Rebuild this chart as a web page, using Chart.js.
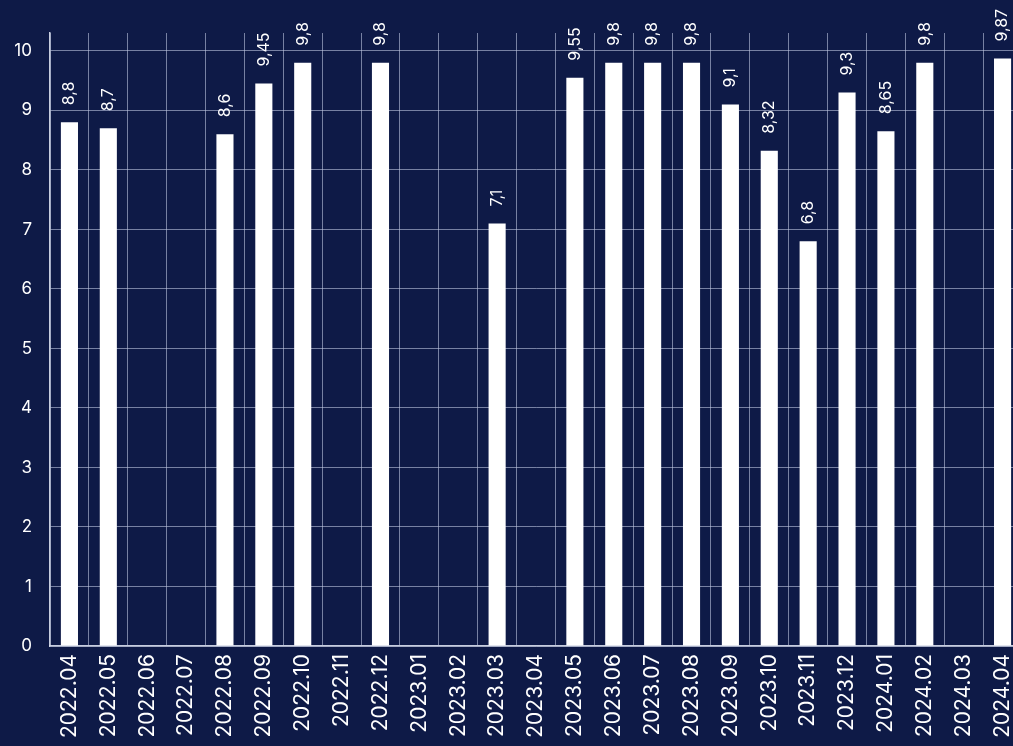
<!DOCTYPE html>
<html>
<head>
<meta charset="utf-8">
<script src="https://cdn.jsdelivr.net/npm/chart.js@4/dist/chart.umd.min.js"></script>
<style>
  html, body { margin:0; padding:0; background:#0e1a47; overflow:hidden; }
  #wrap { width:1013px; height:746px; overflow:hidden; position:relative; }
  #box { position:absolute; left:0; top:0; width:1022px; height:746px; }
</style>
</head>
<body>
<div id="wrap"><div id="box"><canvas id="c"></canvas></div></div>
<script>
// data
const months = ["2022.04","2022.05","2022.06","2022.07","2022.08","2022.09","2022.10","2022.11","2022.12",
  "2023.01","2023.02","2023.03","2023.04","2023.05","2023.06","2023.07","2023.08","2023.09","2023.10",
  "2023.11","2023.12","2024.01","2024.02","2024.03","2024.04"];
const scores = [8.8, 8.7, null, null, 8.6, 9.45, 9.8, null, 9.8,
  null, null, 7.1, null, 9.55, 9.8, 9.8, 9.8, 9.1, 8.32,
  6.8, 9.3, 8.65, 9.8, null, 9.87];
const yTicks = [0, 1, 2, 3, 4, 5, 6, 7, 8, 9, 10];

const FONT = 'Inter, "Noto Sans", sans-serif';
const gridCol = "rgba(190,198,225,0.6)";

// value labels, rotated, above each bar
const barLabels = {
  id: "barLabels",
  afterDatasetsDraw(chart) {
    const ctx = chart.ctx;
    const meta = chart.getDatasetMeta(0);
    ctx.save();
    ctx.fillStyle = "#ffffff";
    ctx.font = "16px " + FONT;
    ctx.textAlign = "left";
    ctx.textBaseline = "middle";
    meta.data.forEach((bar, i) => {
      const v = scores[i];
      if (v == null) return;
      ctx.save();
      ctx.translate(bar.x, bar.y - 17);
      ctx.rotate(-Math.PI / 2);
      ctx.fillText(String(v).replace(".", ","), 0, 0);
      ctx.restore();
    });
    ctx.restore();
  }
};

new Chart(document.getElementById("c"), {
  type: "bar",
  data: {
    labels: months,
    datasets: [{
      data: scores,
      backgroundColor: "#ffffff",
      borderWidth: 0,
      barPercentage: 0.44,
      categoryPercentage: 1
    }]
  },
  options: {
    responsive: true,
    maintainAspectRatio: false,
    animation: false,
    layout: { padding: { left: 10, top: 33, right: 0, bottom: 0 } },
    plugins: { legend: { display: false }, tooltip: { enabled: false } },
    scales: {
      x: {
        afterFit: s => { s.height = 100; s.paddingLeft = 0; s.paddingRight = 0; },
        grid: { color: gridCol, lineWidth: 1, drawTicks: false, offset: true },
        border: { color: "rgba(220,225,240,0.9)", width: 1.5 },
        ticks: {
          color: "#ffffff", font: { family: FONT, size: 21 },
          minRotation: 90, maxRotation: 90, padding: 8, autoSkip: false
        }
      },
      y: {
        min: 0, max: 10.3,
        afterBuildTicks: s => { s.ticks = yTicks.map(v => ({ value: v })); },
        afterFit: s => { s.width = 40; },
        grid: { color: gridCol, lineWidth: 1, drawTicks: false },
        border: { color: "rgba(220,225,240,0.9)", width: 1.5 },
        ticks: { color: "#ffffff", font: { family: FONT, size: 17 }, padding: 18 }
      }
    }
  },
  plugins: [barLabels]
});
</script>
</body>
</html>
